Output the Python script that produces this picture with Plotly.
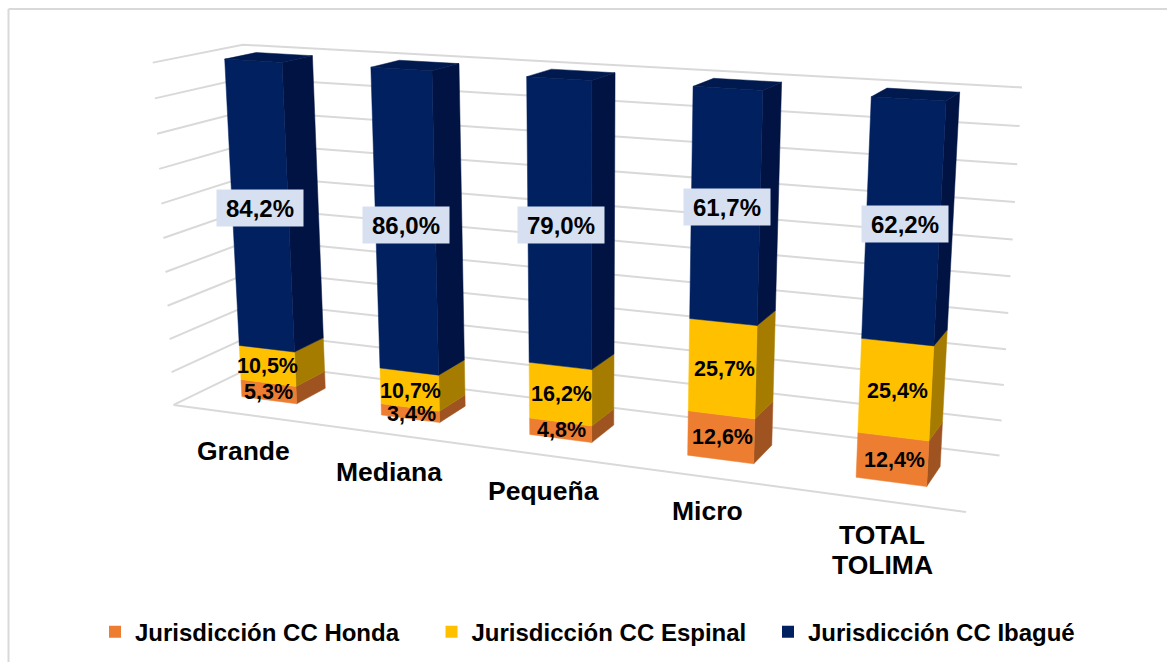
import numpy as np
import plotly.graph_objects as go

# ---- data -------------------------------------------------------------
categories = ["Grande", "Mediana", "Pequeña", "Micro", "TOTAL<br>TOLIMA"]
honda = [5.3, 3.4, 4.8, 12.6, 12.4]
espinal = [10.5, 10.7, 16.2, 25.7, 25.4]
ibague = [84.2, 86.0, 79.0, 61.7, 62.2]
series_names = ["Jurisdicción CC Honda", "Jurisdicción CC Espinal", "Jurisdicción CC Ibagué"]
grid_levels = [0, 10, 20, 30, 40, 50, 60, 70, 80, 90, 100]

# ---- styles -----------------------------------------------------------
front_colors = ["#ED7D31", "#FFC000", "#002060"]
side_colors = ["#9E5320", "#A67C00", "#001342"]
top_color = "#001A4F"
grid_color = "#D9D9D9"
label_bg = "#D6E0F1"
FONT = "Liberation Sans"
LABEL_DX = [0, 1, 1, 2, 2]
LABEL_DY = [0, 1, 0, 0, 1]
CAT_DX = [46, 43, 39, 34, 27]
CAT_DY = [13, 13, 10, 6, 19]
CAT_LINE = 30
WALL_Y_FRONT, WALL_Y_BACK, WALL_X_END = -0.05, 1.06, 4.98

# ---- 3D box geometry and camera calibration (paper pixels) -------------
GAP, Y0, Y1 = 0.3, 0.3, 0.7
calib = [
    ((0, 0, 0), (175, 407)), ((0, 0, 100), (153, 65)), ((5, 0, 0), (973, 510)),
    ((0, 1, 100), (240, 44)), ((5, 1, 100), (1022, 85)), ((5, 1, 0), (997, 484)),
]
# for each bar index: front-left, back-left, back-right, front-right at the top,
# then front-left, front-right, back-right at the floor
bar_tops = {0: [(223, 61), (257, 52), (313, 55), (282, 64)],
            1: [(371, 69), (400, 60), (460, 63), (433, 72)],
            2: [(527, 78), (552, 68), (616, 72), (592, 82)],
            3: [(694, 87), (713, 77), (781, 82), (763, 92)],
            4: [(872, 97), (887, 86), (958, 91), (947, 102)]}
bar_feet = {0: [(241, 398), (296, 404), (326, 386)],
            1: [(382, 415), (441, 422), (466, 403)],
            2: [(530, 434), (593, 441), (614, 421)],
            3: [(688, 453), (755, 462), (772, 442)],
            4: [(857, 474), (927, 483), (939, 461)]}
for i in range(5):
    l, r = i + GAP, i + 1 - GAP
    calib += list(zip([(l, Y0, 100), (l, Y1, 100), (r, Y1, 100), (r, Y0, 100)], bar_tops[i]))
    calib += list(zip([(l, Y0, 0), (r, Y0, 0), (r, Y1, 0)], bar_feet[i]))
A = []
for (X, Y, Z), (u, v) in calib:
    p = [X, Y, Z / 100, 1]
    u, v = u / 1000, v / 1000
    A.append(p + [0, 0, 0, 0] + [-u * c for c in p])
    A.append([0, 0, 0, 0] + p + [-v * c for c in p])
M = np.linalg.svd(np.array(A))[2][-1].reshape(3, 4)


def proj(X, Y, Z):
    w = M @ np.array([X, Y, Z / 100, 1])
    return float(w[0] / w[2] * 1000), float(w[1] / w[2] * 1000)


def polys(faces):
    xs, ys = [], []
    for f in faces:
        pts = [proj(*c) for c in f] + [proj(*f[0])]
        xs += [p[0] for p in pts] + [None]
        ys += [p[1] for p in pts] + [None]
    return xs, ys


fig = go.Figure()

# walls
wall = []
for z in grid_levels:
    wall.append([(0, WALL_Y_FRONT, z), (0, WALL_Y_BACK, z), (WALL_X_END, WALL_Y_BACK, z)])
wall.append([(0, WALL_Y_FRONT, 0), (WALL_X_END, WALL_Y_FRONT, 0)])
wx, wy = [], []
for seg in wall:
    pts = [proj(*c) for c in seg]
    wx += [p[0] for p in pts] + [None]
    wy += [p[1] for p in pts] + [None]
fig.add_trace(go.Scatter(x=wx, y=wy, mode="lines", line=dict(color=grid_color, width=2),
                         hoverinfo="skip", showlegend=False))

# stacked cuboids
stack = [honda, espinal, ibague]
for s in range(3):
    front, side = [], []
    for i in range(5):
        z0 = sum(stack[k][i] for k in range(s))
        z1 = z0 + stack[s][i]
        x0, x1 = i + GAP, i + 1 - GAP
        front.append([(x0, Y0, z0), (x1, Y0, z0), (x1, Y0, z1), (x0, Y0, z1)])
        side.append([(x1, Y0, z0), (x1, Y1, z0), (x1, Y1, z1), (x1, Y0, z1)])
    for faces, col in ((side, side_colors[s]), (front, front_colors[s])):
        x, y = polys(faces)
        fig.add_trace(go.Scatter(x=x, y=y, mode="lines", fill="toself", fillcolor=col,
                                 line=dict(color=col, width=0.5), hoverinfo="skip", showlegend=False))
tops = []
for i in range(5):
    z = honda[i] + espinal[i] + ibague[i]
    x0, x1 = i + GAP, i + 1 - GAP
    tops.append([(x0, Y0, z), (x1, Y0, z), (x1, Y1, z), (x0, Y1, z)])
x, y = polys(tops)
fig.add_trace(go.Scatter(x=x, y=y, mode="lines", fill="toself", fillcolor=top_color,
                         line=dict(color=top_color, width=0.5), hoverinfo="skip", showlegend=False))

# legend entries
for name, col in zip(series_names, front_colors):
    fig.add_trace(go.Scatter(x=[None], y=[None], mode="markers", name=name,
                             marker=dict(symbol="square", size=12, color=col)))

# labels
ann = []
for s in range(3):
    for i in range(5):
        z0 = sum(stack[k][i] for k in range(s))
        v = stack[s][i]
        px, py = proj(i + 0.5, Y0, z0 + v / 2)
        px, py = px + LABEL_DX[i], py + LABEL_DY[i]
        txt = f"{v:.1f}%".replace(".", ",")
        if s == 2:
            ann.append(dict(x=px, y=py, text=f"<b>{txt}</b>", bgcolor=label_bg, showarrow=False,
                            width=84, height=34, font=dict(family=FONT, size=24, color="black")))
        else:
            ann.append(dict(x=px, y=py, text=f"<b>{txt}</b>", showarrow=False,
                            font=dict(family=FONT, size=21.5, color="black")))
for i, c in enumerate(categories):
    px, py = proj(i + 0.5, -0.6, 0)
    lines = c.split("<br>")
    for k, line in enumerate(lines):
        ann.append(dict(x=px + CAT_DX[i], y=py + CAT_DY[i] + (k - (len(lines) - 1) / 2) * CAT_LINE,
                        text=f"<b>{line}</b>", showarrow=False,
                        font=dict(family=FONT, size=26.5, color="black")))

fig.update_layout(
    width=1167, height=662, margin=dict(l=0, r=0, t=0, b=0),
    paper_bgcolor="white", plot_bgcolor="white",
    xaxis=dict(range=[0, 1167], visible=False, fixedrange=True),
    yaxis=dict(range=[662, 0], visible=False, fixedrange=True),
    annotations=ann,
    legend=dict(orientation="h", x=95 / 1167, xanchor="left", y=0.045, yanchor="middle",
                entrywidth=291.5, entrywidthmode="pixels",
                font=dict(family=FONT, size=24, color="black", weight="bold")),
    shapes=[dict(type="line", xref="x", yref="y", x0=8.5, x1=8.5, y0=9, y1=662, line=dict(color=grid_color, width=2)),
            dict(type="line", xref="x", yref="y", x0=8.5, x1=1167, y0=9, y1=9, line=dict(color=grid_color, width=2))],
)
fig.write_html("out.html", config={"displayModeBar": False},
               post_script="document.body.style.margin='0';")
